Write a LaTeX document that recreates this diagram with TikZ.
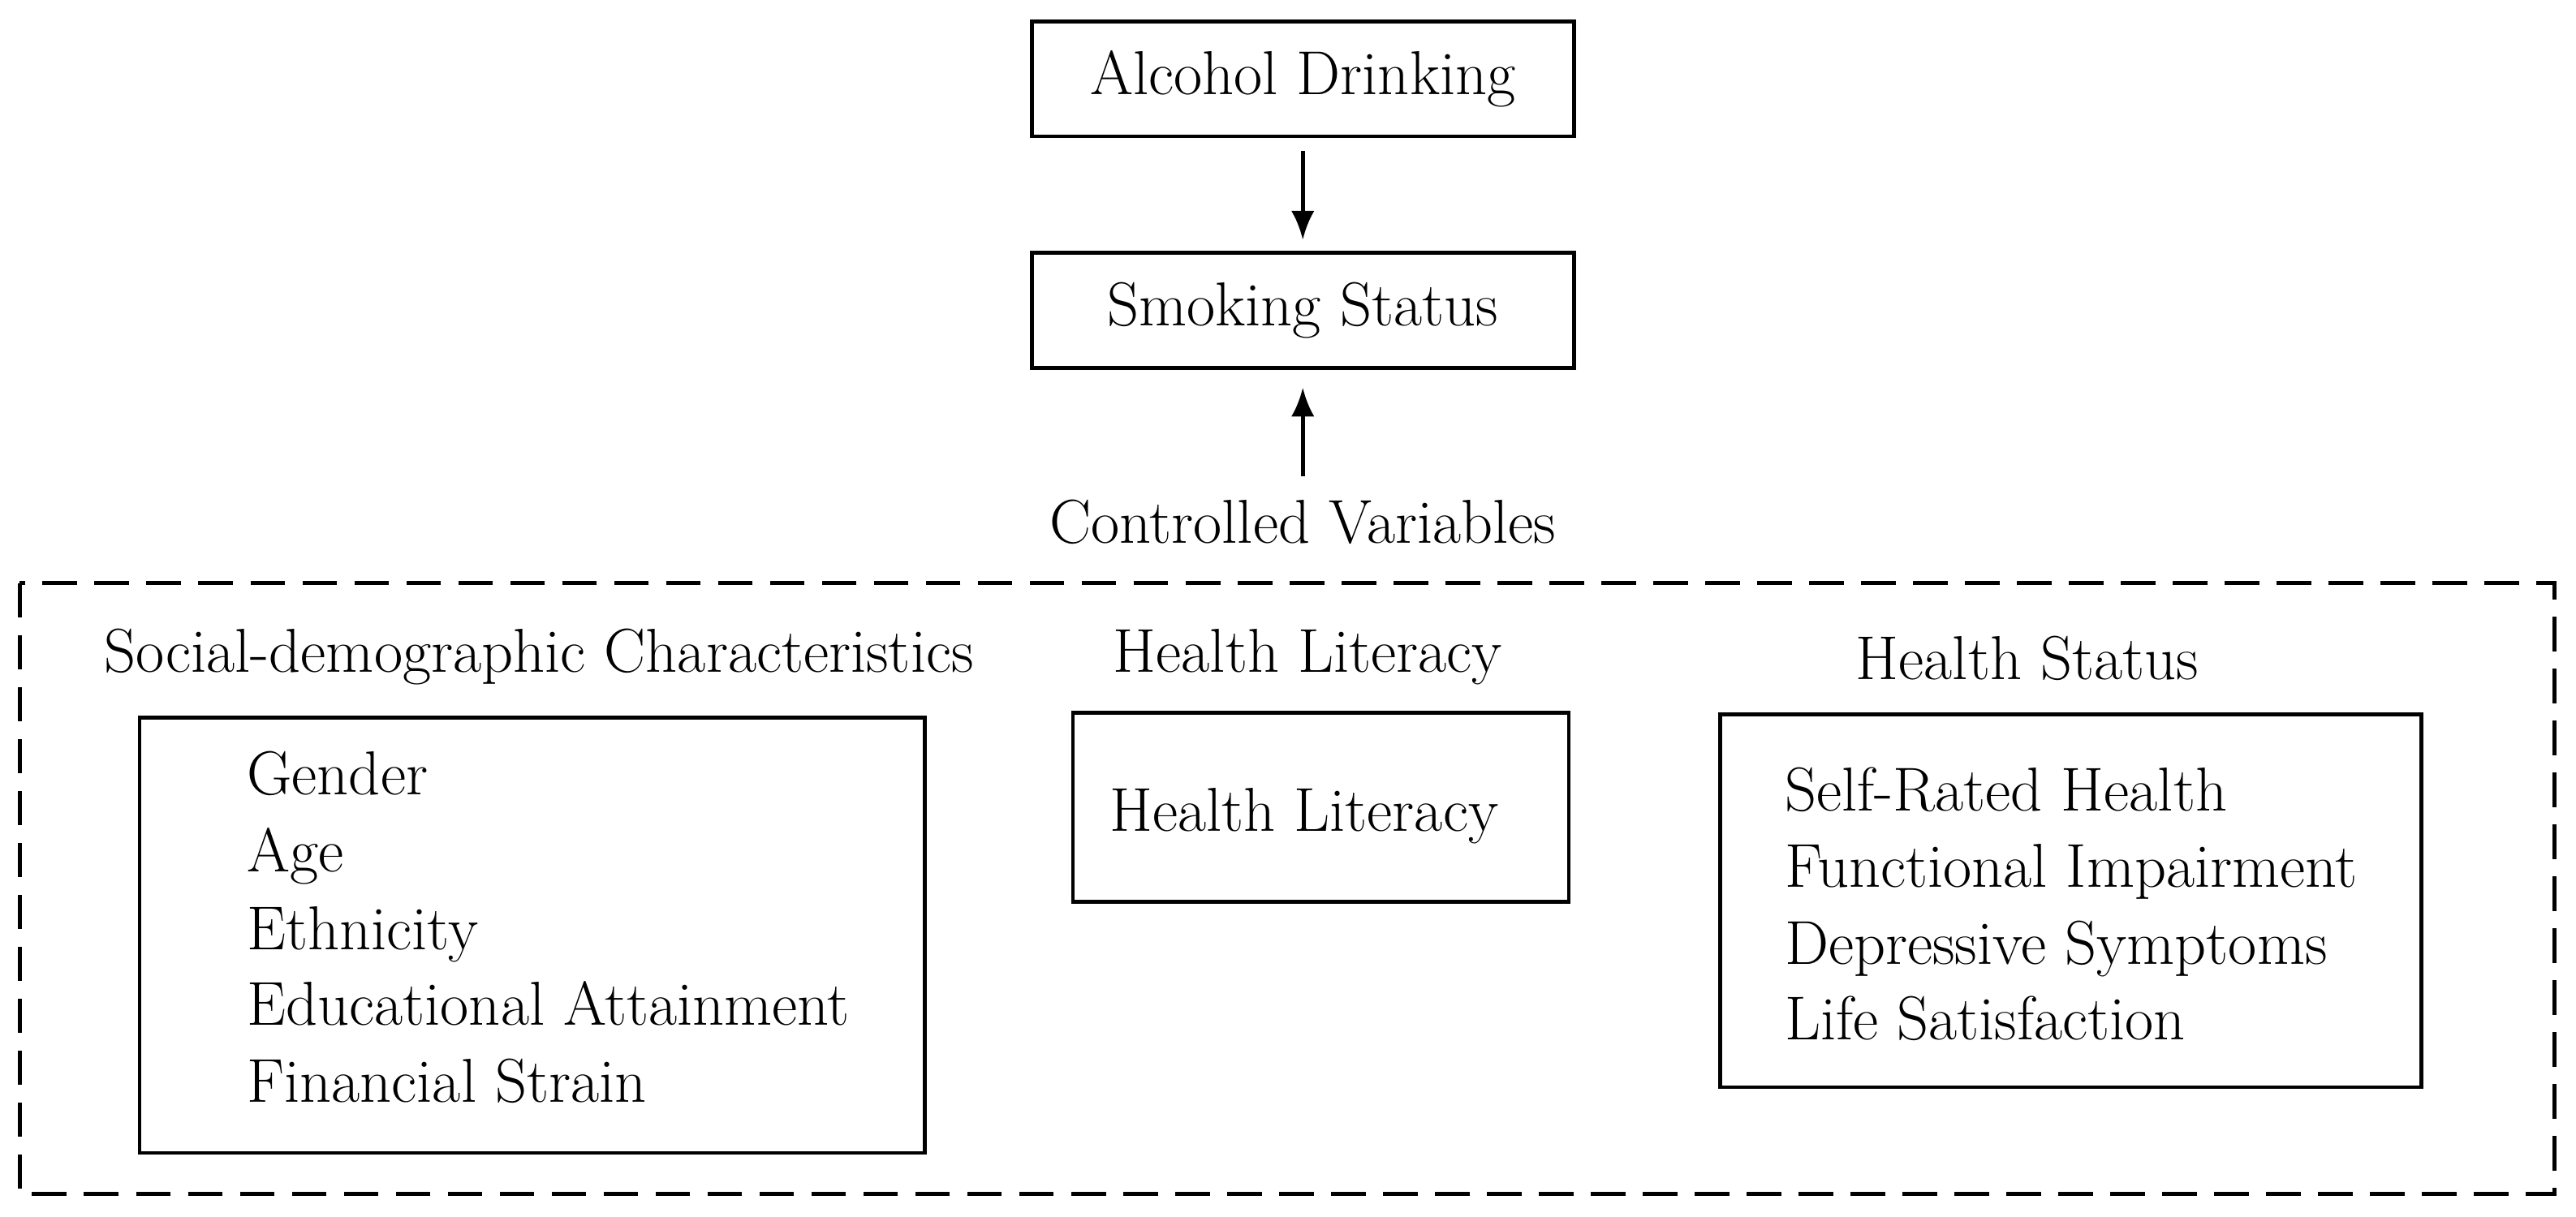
\documentclass[tikz,border=0pt]{standalone}
\usetikzlibrary{arrows.meta}
\begin{document}
\begin{tikzpicture}[x=0.02cm,y=-0.02cm,
  every node/.style={font=\fontsize{21.5}{25}\selectfont},
  box/.style={draw,line width=1.3pt},
  lbl/.style={inner sep=0pt,anchor=base west},
  arr/.style={-{Latex[length=10pt,width=8pt]},line width=1.3pt}]
\useasboundingbox (0,0) rectangle (1568,741);
\node[box,minimum width=330*0.02cm,minimum height=70*0.02cm] (alc) at (793,48) {Alcohol Drinking};
\node[box,minimum width=330*0.02cm,minimum height=70*0.02cm] (smk) at (793,189) {Smoking Status};
\coordinate (a1) at (793,92); \coordinate (a2) at (793,146);
\draw[arr] (a1) -- (a2);
\coordinate (b1) at (793,290); \coordinate (b2) at (793,236);
\draw[arr] (b1) -- (b2);
\node (cv) at (793,318) {Controlled Variables};
\draw[dashed,line width=1.3pt,dash pattern=on 12pt off 6pt] (12,355) rectangle (1555,727);
\node (sdt) at (328,400) {Social-demographic Characteristics};
\draw[box] (85,437) rectangle (563,702);
\foreach \t/\y [count=\i] in {Gender/484,Age/531,Ethnicity/578,Educational Attainment/624,Financial Strain/671}
  \node[lbl] (s\i) at (150,\y) {\t};
\node (hlt) at (796,400) {Health Literacy};
\draw[box] (653,434) rectangle (955,549);
\node[lbl] (hl) at (675,506) {Health Literacy};
\node (hst) at (1234,401) {Health Status};
\draw[box] (1047,435) rectangle (1474,662);
\foreach \t/\y [count=\i] in {Self-Rated Health/494,Functional Impairment/540,Depressive Symptoms/587,Life Satisfaction/633}
  \node[lbl] (h\i) at (1086,\y) {\t};
\end{tikzpicture}
\end{document}
